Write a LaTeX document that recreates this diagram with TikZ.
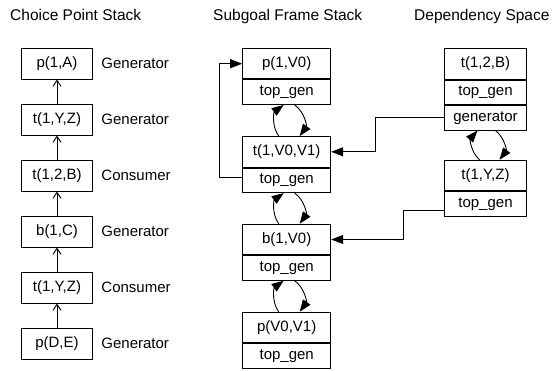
\documentclass[tikz,border=0pt]{standalone}
\usepackage{fontspec}
\setmainfont{Liberation Sans}
\usetikzlibrary{positioning,arrows.meta}

\tikzset{
  cpbox/.style={draw, line width=1pt, minimum width=71.5pt, minimum height=31pt, inner sep=0pt},
  headcell/.style={draw, line width=1pt, minimum height=30.5pt, inner sep=0pt},
  fieldcell/.style={draw, line width=1pt, minimum height=24.5pt, inner sep=0pt},
  sfwidth/.style={minimum width=88pt},
  dswidth/.style={minimum width=82.5pt},
  title/.style={anchor=base west, inner sep=0pt, font=\fontsize{15.5}{19}\selectfont},
  kind/.style={inner sep=0pt},
  link/.style={-{Triangle[length=12pt,width=9pt]}, line width=0.9pt},
  stackarrow/.style={-{Straight Barb[length=6pt,width=8pt]}, line width=0.9pt},
}

\begin{document}
\begin{tikzpicture}[x=1pt, y=-1pt, every node/.style={font=\fontsize{15}{18}\selectfont}]
  \useasboundingbox (0,0) rectangle (553,370);

  % titles
  \node[title] (cptitle) at (10,20) {Choice Point Stack};
  \node[title] (sftitle) at (213,20) {Subgoal Frame Stack};
  \node[title] (dstitle) at (414,20) {Dependency Space};

  % choice point stack
  \node[cpbox] (cp1) at (57,63.5) {p(1,A)};
  \node[cpbox] (cp2) at (57,119.5) {t(1,Y,Z)};
  \node[cpbox] (cp3) at (57,175.5) {t(1,2,B)};
  \node[cpbox] (cp4) at (57,231.5) {b(1,C)};
  \node[cpbox] (cp5) at (57,287.5) {t(1,Y,Z)};
  \node[cpbox] (cp6) at (57,343.5) {p(D,E)};

  \node[kind, right=8pt of cp1] (kind1) {Generator};
  \node[kind, right=8pt of cp2] (kind2) {Generator};
  \node[kind, right=8pt of cp3] (kind3) {Consumer};
  \node[kind, right=8pt of cp4] (kind4) {Generator};
  \node[kind, right=8pt of cp5] (kind5) {Consumer};
  \node[kind, right=8pt of cp6] (kind6) {Generator};

  \foreach \a/\b in {2/1,3/2,4/3,5/4,6/5}
    \draw[stackarrow] (cp\a) -- (cp\b);

  % subgoal frames
  \node[headcell, sfwidth] (sf1) at (286.7,63.7) {p(1,V0)};
  \node[fieldcell, sfwidth, below=0pt of sf1] (sftop1) {top\_gen};
  \node[headcell, sfwidth] (sf2) at (286.7,151.8) {t(1,V0,V1)};
  \node[fieldcell, sfwidth, below=0pt of sf2] (sftop2) {top\_gen};
  \node[headcell, sfwidth] (sf3) at (286.7,239.5) {b(1,V0)};
  \node[fieldcell, sfwidth, below=0pt of sf3] (sftop3) {top\_gen};
  \node[headcell, sfwidth] (sf4) at (286.7,327.5) {p(V0,V1)};
  \node[fieldcell, sfwidth, below=0pt of sf4] (sftop4) {top\_gen};

  \foreach \up/\low in {1/2,2/3,3/4} {
    \draw[link] ([xshift=-8pt]sf\low.north) to[bend left=45] ([xshift=-3pt]sftop\up.south);
    \draw[link] ([xshift=8pt]sftop\up.south) to[bend left=45] ([xshift=13pt]sf\low.north);
  }

  % dependency space
  \node[headcell, dswidth] (ds1) at (485.5,63.8) {t(1,2,B)};
  \node[fieldcell, dswidth, below=0pt of ds1] (dstop1) {top\_gen};
  \node[fieldcell, dswidth, below=0pt of dstop1] (dsgen1) {generator};
  \node[headcell, dswidth] (ds2) at (485.5,175.5) {t(1,Y,Z)};
  \node[fieldcell, dswidth, below=0pt of ds2] (dstop2) {top\_gen};

  \draw[link] ([xshift=-6pt]ds2.north) to[bend left=45] ([xshift=-8pt]dsgen1.south);
  \draw[link] ([xshift=10pt]dsgen1.south) to[bend left=45] ([xshift=14pt]ds2.north);

  % links between the columns
  \draw[link] (dsgen1.west) -- ++(-68,0) |- (sf2.east);
  \draw[link] ([yshift=-6.5pt]dstop2.west) -- ++(-40,0) |- (sf3.east);
  \draw[link] ([yshift=3pt]sftop2.west) -- ++(-23,0) |- (sf1.west);
\end{tikzpicture}
\end{document}
